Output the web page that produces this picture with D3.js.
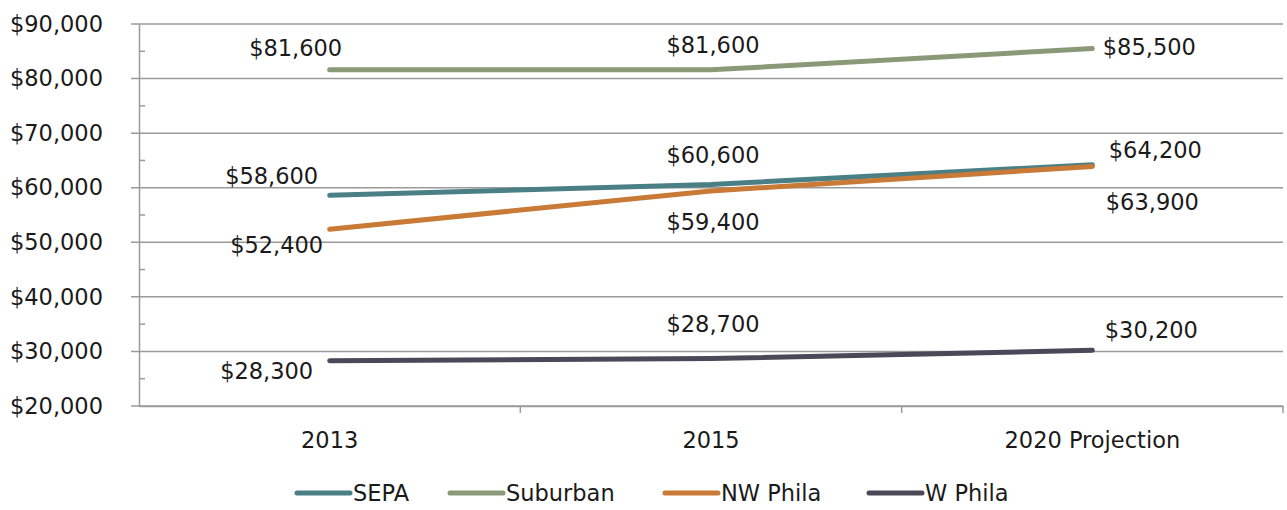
<!DOCTYPE html>
<html>
<head>
<meta charset="utf-8">
<script src="https://cdn.jsdelivr.net/npm/d3@7"></script>
<style>
  body { margin: 0; background: #fff; }
  svg { display: block; font-family: "DejaVu Sans", sans-serif; }
  .tick text { fill: #1a1a1a; }
</style>
</head>
<body>
<svg id="chart" width="1287" height="510"></svg>
<script>
// data
const categories = ['2013', '2015', '2020 Projection'];
const seriesNames = ['SEPA', 'Suburban', 'NW Phila', 'W Phila'];
const sepa = [58600, 60600, 64200];
const suburban = [81600, 81600, 85500];
const nwPhila = [52400, 59400, 63900];
const wPhila = [28300, 28700, 30200];
const yTicks = [20000, 30000, 40000, 50000, 60000, 70000, 80000, 90000];

const colors = ['#4a7f86', '#8a9a78', '#c87a36', '#4b4858'];
// label offsets from each point [dx, dy] (centre of text)
const labelOffsets = [
  [[-58, -19], [2, -29], [63, -15]],
  [[-34, -22], [2, -25], [57, -2]],
  [[-53, 16], [2, 31], [60, 36]],
  [[-63, 10], [2, -35], [59, -20]]
];
const FS = 22.5;

const series = [sepa, suburban, nwPhila, wPhila].map((v, i) => ({ name: seriesNames[i], values: v, color: colors[i], offs: labelOffsets[i] }));

const svg = d3.select('#chart');
const margin = { left: 139, right: 4, top: 24, bottom: 104 };
const width = 1287, height = 510;

const x = d3.scaleBand().domain(categories).range([margin.left, width - margin.right]);
const y = d3.scaleLinear().domain([20000, 90000]).range([height - margin.bottom, margin.top]);
const fmt = d => '$' + d3.format(',')(d);

// gridlines
svg.append('g')
  .selectAll('line')
  .data(yTicks)
  .join('line')
  .attr('x1', margin.left - 8)
  .attr('x2', width - margin.right)
  .attr('y1', d => y(d))
  .attr('y2', d => y(d))
  .attr('stroke', '#9a9a9a')
  .attr('stroke-width', 1.5);

// minor ticks inside
svg.append('g')
  .selectAll('line')
  .data(d3.range(25000, 90000, 10000))
  .join('line')
  .attr('x1', margin.left)
  .attr('x2', margin.left + 6)
  .attr('y1', d => y(d))
  .attr('y2', d => y(d))
  .attr('stroke', '#9a9a9a')
  .attr('stroke-width', 1.5);

// y axis
const yAxis = svg.append('g')
  .attr('transform', `translate(${margin.left},0)`)
  .call(d3.axisLeft(y).tickValues(yTicks).tickFormat(fmt).tickSize(0).tickPadding(36));
yAxis.attr('font-family', null).attr('font-size', FS);
yAxis.select('.domain').attr('stroke', '#9a9a9a').attr('stroke-width', 1.5);

// x axis
const xAxis = svg.append('g')
  .attr('transform', `translate(0,${y(20000)})`)
  .call(d3.axisBottom(x).tickSize(0).tickPadding(26));
xAxis.attr('font-family', null).attr('font-size', FS);
xAxis.select('.domain').attr('stroke', '#9a9a9a').attr('stroke-width', 1.5);
// boundary ticks
xAxis.append('g')
  .selectAll('line')
  .data(categories.slice(1).concat(['end']))
  .join('line')
  .attr('x1', d => d === 'end' ? x.range()[1] : x(d))
  .attr('x2', d => d === 'end' ? x.range()[1] : x(d))
  .attr('y1', 0)
  .attr('y2', 7)
  .attr('stroke', '#9a9a9a')
  .attr('stroke-width', 1.5);

const cx = c => x(c) + x.bandwidth() / 2;
const line = d3.line().x((d, i) => cx(categories[i])).y(d => y(d));

const g = svg.append('g');
g.selectAll('path')
  .data(series)
  .join('path')
  .attr('d', s => line(s.values))
  .attr('fill', 'none')
  .attr('stroke', s => s.color)
  .attr('stroke-width', 5)
  .attr('stroke-linecap', 'round');

// data labels
series.forEach(s => {
  svg.append('g')
    .selectAll('text')
    .data(s.values)
    .join('text')
    .attr('x', (d, i) => cx(categories[i]) + s.offs[i][0])
    .attr('y', (d, i) => y(d) + s.offs[i][1])
    .attr('text-anchor', 'middle')
    .attr('dominant-baseline', 'central')
    .attr('font-size', FS)
    .attr('fill', '#1a1a1a')
    .text(fmt);
});

// legend
const legendX = [295, 448, 663, 867];
const legend = svg.append('g').attr('transform', 'translate(0,493)');
series.forEach((s, i) => {
  const lg = legend.append('g').attr('transform', `translate(${legendX[i]},0)`);
  lg.append('line')
    .attr('x1', 2).attr('x2', 55)
    .attr('stroke', s.color)
    .attr('stroke-width', 5)
    .attr('stroke-linecap', 'round');
  lg.append('text')
    .attr('x', 58)
    .attr('dominant-baseline', 'central')
    .attr('font-size', FS)
    .attr('fill', '#1a1a1a')
    .text(s.name);
});
</script>
</body>
</html>
